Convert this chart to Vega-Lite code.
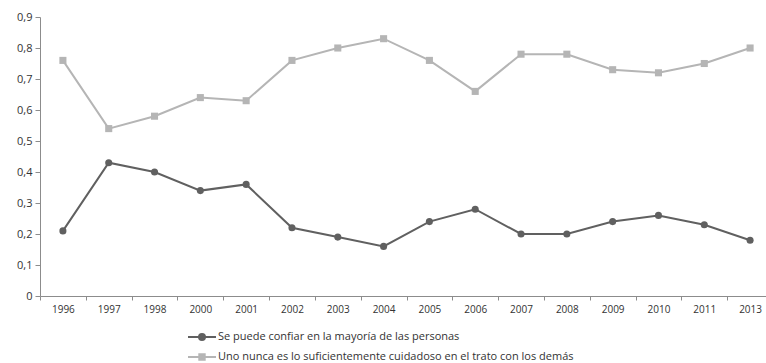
{
  "$schema": "https://vega.github.io/schema/vega-lite/v6.json",
  "autosize": "none",
  "width": 733,
  "height": 279,
  "padding": {"left": 40, "top": 17, "right": 0, "bottom": 67},
  "background": "white",
  "config": {
    "view": {"stroke": null},
    "font": "Open Sans",
    "axis": {
      "grid": false,
      "domainColor": "#8c8c8c",
      "tickColor": "#8c8c8c",
      "labelColor": "#333333",
      "labelFont": "Open Sans",
      "labelFontSize": 10,
      "title": null
    }
  },
  "data": {
    "values": [
      {"year": "1996", "serie": "Se puede confiar en la mayoría de las personas", "valor": 0.21},
      {"year": "1997", "serie": "Se puede confiar en la mayoría de las personas", "valor": 0.43},
      {"year": "1998", "serie": "Se puede confiar en la mayoría de las personas", "valor": 0.40},
      {"year": "2000", "serie": "Se puede confiar en la mayoría de las personas", "valor": 0.34},
      {"year": "2001", "serie": "Se puede confiar en la mayoría de las personas", "valor": 0.36},
      {"year": "2002", "serie": "Se puede confiar en la mayoría de las personas", "valor": 0.22},
      {"year": "2003", "serie": "Se puede confiar en la mayoría de las personas", "valor": 0.19},
      {"year": "2004", "serie": "Se puede confiar en la mayoría de las personas", "valor": 0.16},
      {"year": "2005", "serie": "Se puede confiar en la mayoría de las personas", "valor": 0.24},
      {"year": "2006", "serie": "Se puede confiar en la mayoría de las personas", "valor": 0.28},
      {"year": "2007", "serie": "Se puede confiar en la mayoría de las personas", "valor": 0.20},
      {"year": "2008", "serie": "Se puede confiar en la mayoría de las personas", "valor": 0.20},
      {"year": "2009", "serie": "Se puede confiar en la mayoría de las personas", "valor": 0.24},
      {"year": "2010", "serie": "Se puede confiar en la mayoría de las personas", "valor": 0.26},
      {"year": "2011", "serie": "Se puede confiar en la mayoría de las personas", "valor": 0.23},
      {"year": "2013", "serie": "Se puede confiar en la mayoría de las personas", "valor": 0.18},
      {"year": "1996", "serie": "Uno nunca es lo suficientemente cuidadoso en el trato con los demás", "valor": 0.76},
      {"year": "1997", "serie": "Uno nunca es lo suficientemente cuidadoso en el trato con los demás", "valor": 0.54},
      {"year": "1998", "serie": "Uno nunca es lo suficientemente cuidadoso en el trato con los demás", "valor": 0.58},
      {"year": "2000", "serie": "Uno nunca es lo suficientemente cuidadoso en el trato con los demás", "valor": 0.64},
      {"year": "2001", "serie": "Uno nunca es lo suficientemente cuidadoso en el trato con los demás", "valor": 0.63},
      {"year": "2002", "serie": "Uno nunca es lo suficientemente cuidadoso en el trato con los demás", "valor": 0.76},
      {"year": "2003", "serie": "Uno nunca es lo suficientemente cuidadoso en el trato con los demás", "valor": 0.80},
      {"year": "2004", "serie": "Uno nunca es lo suficientemente cuidadoso en el trato con los demás", "valor": 0.83},
      {"year": "2005", "serie": "Uno nunca es lo suficientemente cuidadoso en el trato con los demás", "valor": 0.76},
      {"year": "2006", "serie": "Uno nunca es lo suficientemente cuidadoso en el trato con los demás", "valor": 0.66},
      {"year": "2007", "serie": "Uno nunca es lo suficientemente cuidadoso en el trato con los demás", "valor": 0.78},
      {"year": "2008", "serie": "Uno nunca es lo suficientemente cuidadoso en el trato con los demás", "valor": 0.78},
      {"year": "2009", "serie": "Uno nunca es lo suficientemente cuidadoso en el trato con los demás", "valor": 0.73},
      {"year": "2010", "serie": "Uno nunca es lo suficientemente cuidadoso en el trato con los demás", "valor": 0.72},
      {"year": "2011", "serie": "Uno nunca es lo suficientemente cuidadoso en el trato con los demás", "valor": 0.75},
      {"year": "2013", "serie": "Uno nunca es lo suficientemente cuidadoso en el trato con los demás", "valor": 0.80}
    ]
  },
  "encoding": {
    "x": {
      "field": "year",
      "type": "ordinal",
      "scale": {"type": "band", "paddingInner": 0, "paddingOuter": 0},
      "axis": {"tickBand": "extent", "labelAngle": 0, "tickSize": 4, "labelPadding": 4}
    },
    "y": {
      "field": "valor",
      "type": "quantitative",
      "scale": {"domain": [0, 0.9], "nice": false},
      "axis": {
        "values": [0, 0.1, 0.2, 0.3, 0.4, 0.5, 0.6, 0.7, 0.8, 0.9],
        "labelExpr": "datum.value == 0 ? '0' : replace(format(datum.value, '.1f'), '.', ',')",
        "tickSize": 5,
        "labelPadding": 3,
        "labelFontSize": 11
      }
    },
    "color": {
      "field": "serie",
      "type": "nominal",
      "scale": {"range": ["#606060", "#b5b5b5"]},
      "legend": {
        "title": null,
        "orient": "none",
        "legendX": 155,
        "legendY": 309,
        "direction": "vertical",
        "symbolSize": 400,
        "symbolStrokeWidth": 2,
        "labelFontSize": 11,
        "labelColor": "#333333",
        "labelFont": "Open Sans",
        "labelOffset": 1,
        "rowPadding": 1,
        "labelLimit": 500,
        "encode": {
          "symbols": {
            "update": {
              "shape": {"signal": "indexof(datum.value, 'Se puede') == 0 ? 'M-1.8,0H1M-0.7,0A0.3,0.3,0,1,1,-0.1,0A0.3,0.3,0,1,1,-0.7,0Z' : 'M-1.8,0H1M-0.67,-0.27H-0.13V0.27H-0.67Z'"},
              "fill": {"signal": "indexof(datum.value, 'Se puede') == 0 ? '#606060' : '#b5b5b5'"},
              "stroke": {"signal": "indexof(datum.value, 'Se puede') == 0 ? '#606060' : '#b5b5b5'"},
              "strokeWidth": {"value": 2},
              "opacity": {"value": 1}
            }
          }
        }
      }
    }
  },
  "layer": [
    {
      "mark": {"type": "line", "strokeWidth": 2}
    },
    {
      "mark": {"type": "point", "filled": true, "opacity": 1, "size": 50},
      "encoding": {
        "shape": {
          "field": "serie",
          "type": "nominal",
          "scale": {"range": ["circle", "square"]},
          "legend": null
        }
      }
    }
  ]
}
